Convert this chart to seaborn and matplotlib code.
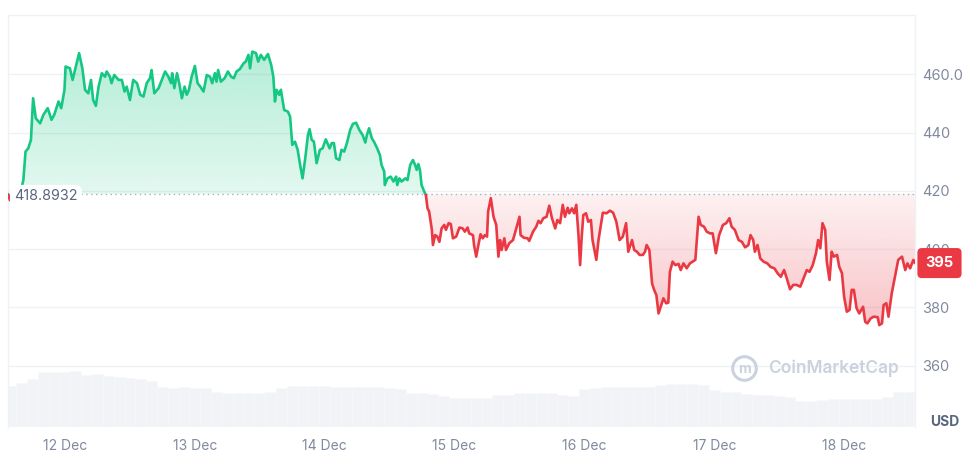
import numpy as np
import pandas as pd
import matplotlib
matplotlib.use("Agg")
import matplotlib.pyplot as plt
import matplotlib.transforms as mtransforms
from matplotlib.patches import Rectangle
from matplotlib.path import Path
from matplotlib.colors import to_rgb
import seaborn as sns

## data (hours counted from 12 Dec 00:00)
hours = [
    -10.5, -10.2, -9.4, -8.7, -8.0, -7.7, -7.3, -6.8, -6.3, -5.9,
    -5.4, -4.6, -4.0, -3.2, -2.5, -2.0, -1.2, -0.7, -0.1, 0.1,
    0.9, 1.4, 2.0, 2.6, 3.2, 3.7, 4.3, 4.8, 5.2, 5.7,
    6.2, 6.8, 7.4, 7.7, 8.3, 8.6, 9.1, 9.9, 10.5, 11.0,
    11.4, 12.0, 12.6, 13.3, 13.9, 14.5, 15.1, 15.7, 16.0, 16.5,
    17.3, 17.9, 18.5, 19.1, 19.6, 19.8, 20.2, 20.7, 21.1, 21.6,
    22.1, 22.5, 22.9, 23.4, 24.0, 24.5, 25.0, 25.6, 26.2, 26.8,
    27.2, 27.7, 28.0, 28.3, 28.8, 29.5, 30.1, 30.7, 31.2, 31.7,
    32.3, 33.0, 33.4, 33.9, 34.2, 34.6, 35.3, 35.7, 36.2, 36.8,
    37.5, 38.1, 38.5, 38.8, 39.1, 39.6, 39.9, 40.5, 41.2, 41.6,
    42.0, 42.5, 43.0, 43.4, 43.9, 44.4, 44.9, 45.2, 45.6, 46.0,
    46.5, 47.1, 47.6, 48.2, 48.9, 49.3, 49.7, 50.1, 50.7, 51.1,
    51.6, 52.1, 52.7, 53.2, 53.8, 54.4, 55.0, 55.5, 55.8, 56.2,
    56.7, 57.1, 57.7, 58.2, 58.5, 59.0, 59.1, 59.6, 60.2, 60.7,
    61.2, 61.4, 61.8, 62.2, 62.9, 63.3, 63.8, 64.3, 64.7, 65.0,
    65.3, 65.6, 65.9, 66.4, 66.7, 67.0, 67.3, 67.8, 68.0, 68.4,
    68.8, 69.2, 69.6, 70.1, 70.4, 70.9, 71.3, 71.7, 72.3, 72.9,
    73.5, 73.9, 74.4, 74.7, 75.4, 75.6, 76.0, 76.4, 76.8, 77.2,
    77.6, 78.0, 78.2, 78.7, 79.2, 79.7, 80.1, 80.4, 80.7, 81.2,
    81.5, 82.1, 82.8, 83.4, 84.0, 84.2, 84.8, 85.5, 85.8, 86.5,
    87.1, 87.5, 87.9, 88.4, 89.0, 89.5, 90.0, 90.6, 91.0, 91.5,
    92.0, 92.4, 92.9, 93.2, 93.7, 94.1, 94.5, 94.9, 95.2, 95.5,
    95.8, 96.3, 96.7, 97.2, 97.5, 98.2, 98.6, 99.0, 99.4, 100.1,
    100.7, 101.3, 101.9, 102.5, 103.1, 103.7, 104.1, 104.8, 105.2, 105.7,
    106.2, 106.8, 107.2, 107.5, 108.0, 108.5, 108.9, 109.3, 109.7, 110.1,
    110.6, 111.1, 111.5, 111.8, 112.3, 112.8, 113.4, 113.8, 114.3, 114.9,
    115.5, 116.5, 117.1, 117.5, 118.1, 118.6, 119.2, 119.7, 120.3, 120.9,
    121.6, 122.2, 122.8, 123.2, 123.8, 124.5, 125.1, 125.7, 126.3, 126.7,
    127.2, 127.5, 128.0, 128.5, 129.1, 129.8, 130.4, 131.1, 131.7, 132.3,
    132.9, 133.4, 134.0, 134.6, 135.2, 135.9, 136.5, 137.1, 137.6, 138.2,
    138.8, 139.2, 139.6, 140.0, 140.5, 140.8, 141.3, 141.7, 142.1, 142.7,
    143.1, 143.6, 144.0, 144.5, 145.0, 145.4, 145.8, 146.3, 146.8, 147.5,
    147.9, 148.3, 148.9, 149.5, 150.2, 150.5, 151.0, 151.3, 151.8, 152.2,
    152.8, 153.4, 154.0, 154.7, 155.3, 155.7, 156.2, 156.8, 157.1,
]
price = [
    418.89, 416.8, 417.5, 419.5, 421.4, 423.7, 433.5, 434.6, 437.5, 451.8,
    444.9, 443.2, 446.1, 448.4, 444.4, 446.1, 450.7, 448.4, 454.7, 462.7,
    462.1, 458.1, 462.7, 467.3, 462.1, 454.7, 453.5, 458.1, 451.2, 449.2,
    455.8, 460.4, 459.2, 461.0, 459.2, 457.0, 459.8, 458.1, 458.1, 454.1,
    455.8, 451.2, 458.1, 457.0, 453.0, 452.4, 457.0, 458.7, 461.5, 453.5,
    455.3, 458.1, 461.0, 459.2, 457.0, 460.4, 455.3, 460.4, 457.0, 451.8,
    455.8, 453.0, 454.7, 459.2, 462.9, 457.0, 455.8, 454.1, 459.8, 459.2,
    457.0, 460.4, 457.5, 461.5, 457.5, 458.7, 461.0, 459.2, 458.7, 461.0,
    461.8, 463.8, 464.4, 466.7, 462.1, 467.8, 467.3, 464.4, 466.7, 465.0,
    467.0, 463.3, 459.2, 450.7, 454.7, 453.0, 454.7, 447.8, 447.2, 445.5,
    435.8, 436.9, 434.1, 429.5, 424.3, 431.2, 439.2, 441.2, 437.5, 436.9,
    429.5, 434.1, 434.6, 437.7, 434.6, 436.4, 436.4, 431.2, 430.6, 434.1,
    433.5, 436.4, 440.9, 443.0, 443.4, 440.9, 439.2, 436.6, 439.2, 441.5,
    438.1, 436.9, 434.6, 432.3, 428.9, 426.6, 422.0, 424.3, 424.9, 423.2,
    424.9, 422.0, 424.3, 423.2, 424.3, 423.7, 428.9, 430.6, 428.9, 427.2,
    429.2, 427.2, 422.0, 419.7, 418.6, 414.0, 412.9, 406.6, 401.4, 404.8,
    404.3, 402.5, 407.1, 408.3, 406.6, 408.9, 408.6, 403.7, 404.3, 407.4,
    407.1, 406.0, 407.4, 405.4, 404.8, 401.4, 397.4, 401.4, 405.1, 403.7,
    404.8, 404.3, 412.9, 417.5, 411.1, 408.3, 397.4, 403.1, 399.7, 403.7,
    399.7, 402.0, 403.1, 407.1, 411.1, 404.8, 403.9, 403.7, 402.8, 406.0,
    407.7, 409.7, 408.9, 410.6, 411.1, 414.9, 410.6, 407.1, 410.0, 408.9,
    415.2, 411.1, 414.2, 412.3, 414.0, 412.3, 415.2, 404.8, 394.5, 404.3,
    411.7, 412.3, 409.4, 410.0, 403.1, 396.3, 403.1, 407.7, 412.5, 412.3,
    413.2, 412.5, 409.4, 403.1, 404.3, 408.9, 399.1, 403.1, 399.7, 399.1,
    398.0, 398.0, 399.1, 401.4, 399.7, 388.2, 385.9, 384.2, 377.9, 380.2,
    383.1, 381.4, 381.6, 392.2, 395.7, 394.5, 394.9, 392.8, 395.1, 393.4,
    395.1, 396.3, 411.1, 408.3, 407.7, 406.0, 405.4, 405.4, 398.6, 404.8,
    408.3, 408.9, 410.6, 407.7, 406.6, 403.1, 402.5, 400.6, 401.4, 404.8,
    403.1, 399.1, 401.4, 396.8, 395.7, 395.1, 393.9, 393.4, 391.7, 390.5,
    392.8, 390.0, 386.2, 387.7, 387.7, 387.1, 390.0, 392.8, 392.2, 394.5,
    398.6, 403.1, 400.3, 408.9, 406.6, 395.7, 389.4, 399.1, 397.4, 398.0,
    393.9, 391.7, 383.6, 378.5, 379.1, 386.0, 386.0, 379.7, 377.9, 380.2,
    375.0, 374.5, 376.2, 376.8, 376.6, 373.9, 374.5, 380.8, 381.4, 376.8,
    384.8, 390.5, 396.3, 397.4, 392.8, 395.1, 393.4, 396.3, 395.2,
]
base_price = 418.8932

# volume, two-hour bars (arbitrary units)
vol_hours = list(range(-10, 157, 2))
vol = [
    41.5, 44.2, 48.0, 54.8, 54.8,
    54.8, 56.0, 52.2, 52.8, 51.5, 50.5, 49.2, 48.0, 46.5, 39.8, 39.0, 39.8, 38.8,
    39.5, 34.8, 33.8, 33.8, 33.8, 34.5, 34.8, 38.8, 40.8, 40.8, 40.8, 40.8, 40.5,
    40.5, 40.5, 40.5, 40.5, 39.2, 38.5, 33.8, 33.8, 33.0, 31.5, 29.2, 29.2, 29.2,
    29.2, 32.5, 32.5, 33.8, 33.8, 33.8, 33.8, 32.5, 31.5, 38.2, 39.5, 40.5, 40.5,
    40.5, 40.5, 40.5, 42.5, 43.2, 43.2, 43.5, 42.5, 37.5, 34.8, 34.8, 33.5, 32.5,
    32.5, 31.5, 30.5, 26.5, 26.5, 27.5, 28.5, 28.5, 28.5, 28.5, 28.5, 30.5, 35.5,
    35.5,
]

day_hours = [0, 24, 48, 72, 96, 120, 144]
day_labels = ["12 Dec", "13 Dec", "14 Dec", "15 Dec", "16 Dec", "17 Dec", "18 Dec"]
price_ticks = [360, 380, 400, 420, 440, 460]
price_tick_labels = ["360", "380", "400", "420", "440", "460.0"]

GREEN = "#16c784"
RED = "#ea3943"
GRID = "#eff2f5"
TXT = "#808a9d"
MARK = "#cbd2dd"

x0, x1 = -10.54, 157.1
y0, y1 = 338.9, 480.4

sns.set_theme(style="white")
plt.rcParams["font.family"] = ["Inter", "DejaVu Sans"]

fig = plt.figure(figsize=(9.73, 4.54), dpi=100)
rect = [8 / 973, 27 / 454, 907 / 973, 412 / 454]

# volume underneath
axv = fig.add_axes(rect)
axv.bar(vol_hours, vol, width=2.0, color="#f1f3f6", edgecolor="#f7f8fa", linewidth=0.4)
axv.set_xlim(x0, x1)
axv.set_ylim(0, 412)
axv.axis("off")

ax = fig.add_axes(rect)
ax.patch.set_visible(False)

df = pd.DataFrame({"hour": hours, "price": price})
t = df["hour"].to_numpy()
p = df["price"].to_numpy()


def gradient_fill(ax, above, color, a_near, a_far):
    if above:
        coll = ax.fill_between(t, p, base_price, where=p >= base_price, interpolate=True)
        lo, hi = base_price, p.max()
        alpha = np.linspace(a_near, a_far, 256)
    else:
        coll = ax.fill_between(t, p, base_price, where=p <= base_price, interpolate=True)
        lo, hi = p.min(), base_price
        alpha = np.linspace(a_far, a_near, 256)
    path = Path.make_compound_path(*coll.get_paths())
    coll.remove()
    img = np.zeros((256, 1, 4))
    img[:, 0, :3] = to_rgb(color)
    img[:, 0, 3] = alpha
    im = ax.imshow(img, extent=[x0, x1, lo, hi], origin="lower", aspect="auto", zorder=1)
    im.set_clip_path(path, ax.transData)


gradient_fill(ax, True, GREEN, 0.12, 0.32)
gradient_fill(ax, False, RED, 0.07, 0.30)

ax.axhline(base_price, color="#a6b0c3", linestyle=(0, (1, 2.5)), linewidth=1, zorder=2)

sns.lineplot(data=df, x="hour", y="price", color=GREEN, linewidth=1.9, ax=ax, zorder=3)
ln = ax.lines[-1]
ln.set_clip_path(Rectangle((x0, base_price), x1 - x0, y1 - base_price, transform=ax.transData))
ln.set_solid_joinstyle("round")
sns.lineplot(data=df, x="hour", y="price", color=RED, linewidth=1.9, ax=ax, zorder=3)
ln = ax.lines[-1]
ln.set_clip_path(Rectangle((x0, y0), x1 - x0, base_price - y0, transform=ax.transData))
ln.set_solid_joinstyle("round")

ax.set_xlim(x0, x1)
ax.set_ylim(y0, y1)
ax.set_xlabel("")
ax.set_ylabel("")

ax.set_yticks(price_ticks)
ax.set_yticklabels(price_tick_labels)
ax.yaxis.tick_right()
ax.set_xticks(day_hours)
ax.set_xticklabels(day_labels)
ax.tick_params(axis="y", length=0, pad=5, labelsize=10.5, labelcolor=TXT)
ax.tick_params(axis="x", length=0, pad=8.5, labelsize=10, labelcolor=TXT)
ax.grid(axis="y", color=GRID, linewidth=1)
ax.grid(axis="x", visible=False)
ax.set_axisbelow(True)

for side in ["left", "top", "right"]:
    ax.spines[side].set_visible(True)
    ax.spines[side].set_color(GRID)
    ax.spines[side].set_linewidth(1)
ax.spines["bottom"].set_visible(False)

blend = mtransforms.blended_transform_factory(ax.transAxes, ax.transData)
ax.annotate("418.8932", xy=(0, base_price), xycoords=blend, xytext=(4.5, -1.5),
            textcoords="offset points", ha="left", va="center", fontsize=10.3,
            color="#58667e", zorder=8,
            bbox=dict(boxstyle="round,pad=0.3,rounding_size=0.5", fc="white", ec="none"))

ax.annotate(f"{price[-1]:.0f}", xy=(1, price[-1]), xycoords=blend, xytext=(7.5, 0),
            textcoords="offset points", ha="left", va="center", fontsize=10.5,
            fontweight="bold", color="white", zorder=10, annotation_clip=False,
            bbox=dict(boxstyle="round,pad=0.55,rounding_size=0.3", fc=RED, ec="none"))

# watermark
ax.plot(0.8115, 0.1432, marker="o", ms=17, mfc="none", mec=MARK, mew=2.2,
        transform=ax.transAxes, zorder=2)
ax.text(0.8115, 0.141, "m", transform=ax.transAxes, ha="center", va="center",
        fontsize=10, color=MARK, fontweight="bold", zorder=2)
ax.text(0.838, 0.143, "CoinMarketCap", transform=ax.transAxes, ha="left", va="center",
        fontsize=12.5, color=MARK, fontweight="semibold", zorder=2)

fig.text(945 / 973, 1 - 422 / 454, "USD", ha="center", va="center", fontsize=10,
         fontweight="bold", color="#58667e")

fig.savefig("out.png", dpi=100, facecolor="white")
